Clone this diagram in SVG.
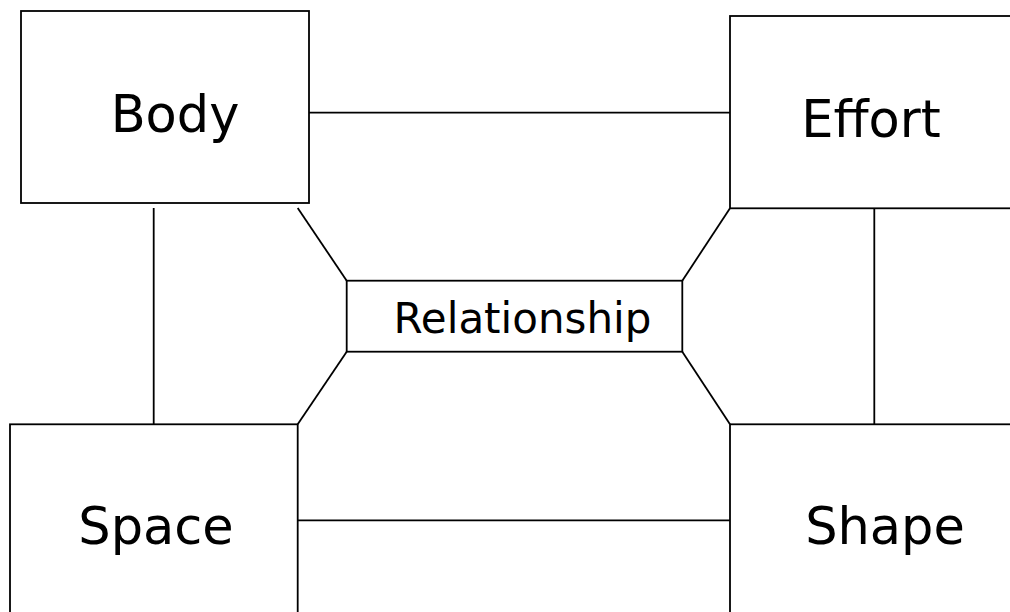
<svg xmlns="http://www.w3.org/2000/svg" width="1010" height="612" viewBox="0 0 1010 612">
<style>
.box{fill:#fff;stroke:#000;stroke-width:1.8}
.conn line{stroke:#000;stroke-width:1.8}
.lbl{font-family:"DejaVu Sans",Verdana,sans-serif;fill:#000;text-anchor:middle}
.big{font-size:51px}
.mid{font-size:42px}
</style>
<rect width="1010" height="612" fill="#fff"/>
<g id="connectors" class="conn">
<line x1="309" y1="112.7" x2="730" y2="112.7"/>
<line x1="153.7" y1="208" x2="153.7" y2="424"/>
<line x1="874.3" y1="208" x2="874.3" y2="424"/>
<line x1="298" y1="520.3" x2="730" y2="520.3"/>
<line x1="297.7" y1="208" x2="346.7" y2="280.7"/>
<line x1="730" y1="208.3" x2="682.3" y2="280.7"/>
<line x1="297.7" y1="424.3" x2="346.7" y2="351.7"/>
<line x1="730" y1="424.3" x2="682.3" y2="351.7"/>
</g>
<g id="body">
<rect class="box" x="21" y="11" width="288" height="192"/>
<text class="lbl big" x="175" y="132">Body</text>
</g>
<g id="effort">
<rect class="box" x="730" y="16" width="300" height="192.3"/>
<text class="lbl big" x="871" y="137">Effort</text>
</g>
<g id="space">
<rect class="box" x="10" y="424.3" width="287.7" height="200"/>
<text class="lbl big" x="156" y="544">Space</text>
</g>
<g id="shape">
<rect class="box" x="730" y="424.3" width="300" height="200"/>
<text class="lbl big" x="885" y="544">Shape</text>
</g>
<g id="relationship">
<rect class="box" x="346.7" y="280.7" width="335.6" height="71"/>
<text class="lbl mid" x="522.5" y="333.3">Relationship</text>
</g>
</svg>
